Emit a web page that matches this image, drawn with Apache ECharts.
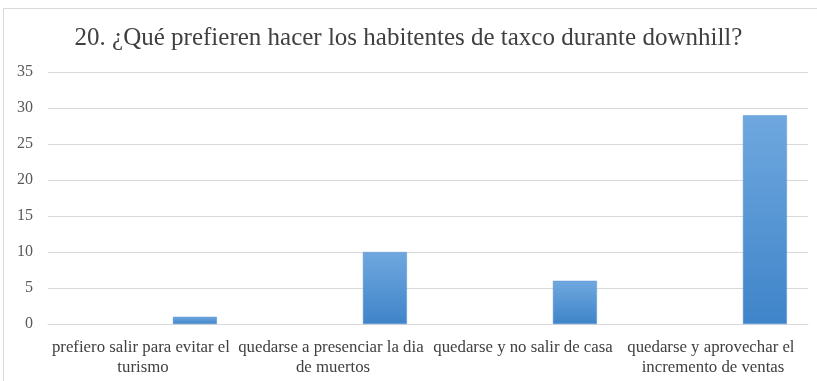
<!DOCTYPE html>
<html>
<head>
<meta charset="utf-8">
<script src="https://cdn.jsdelivr.net/npm/echarts@6/dist/echarts.min.js"></script>
<style>
  html, body { margin: 0; padding: 0; background: #fff; }
  #main { width: 817px; height: 381px; }
</style>
</head>
<body>
<div id="main"></div>
<script>
// datos de la grafica
var categorias = [
    'prefiero salir para evitar el turismo',
    'quedarse a presenciar la dia de muertos',
    'quedarse y no salir de casa',
    'quedarse y aprovechar el incremento de ventas'
];
var valores = [1, 10, 6, 29];
var ticksY = [0, 5, 10, 15, 20, 25, 30, 35];

var fuente = '"Liberation Serif", "Times New Roman", serif';

var myChart = echarts.init(document.getElementById('main'));

// series vacias para que la barra quede desplazada como en el original
var vacia = categorias.map(function () { return null; });

myChart.setOption({
    animation: false,
    title: {
        text: '20. ¿Qué prefieren hacer los habitentes de taxco durante downhill?',
        left: 'center',
        top: 21,
        textStyle: {
            fontFamily: fuente,
            fontSize: 25,
            fontWeight: 'normal',
            color: '#404040'
        }
    },
    graphic: [{
        type: 'rect',
        shape: { x: 3.5, y: 8.5, width: 830, height: 400 },
        style: { fill: 'none', stroke: '#d9d9d9', lineWidth: 1 },
        z: -1
    }],
    grid: { left: 48, right: 9, top: 72, bottom: 57 },
    xAxis: {
        type: 'category',
        data: categorias,
        axisLine: { lineStyle: { color: '#d9d9d9' } },
        axisTick: { show: false },
        axisLabel: {
            interval: 0,
            width: 192,
            overflow: 'break',
            margin: 14,
            lineHeight: 20,
            fontFamily: fuente,
            fontSize: 16.8,
            color: '#404040'
        }
    },
    yAxis: {
        type: 'value',
        min: ticksY[0],
        max: ticksY[ticksY.length - 1],
        interval: 5,
        axisLine: { show: false },
        axisTick: { show: false },
        splitLine: { lineStyle: { color: '#d9d9d9' } },
        axisLabel: {
            margin: 15,
            fontFamily: fuente,
            fontSize: 16,
            color: '#595959'
        }
    },
    series: [
        { type: 'bar', data: vacia, barWidth: 44, barGap: '18%' },
        { type: 'bar', data: vacia, barWidth: 44, barGap: '18%' },
        {
            name: 'habitantes',
            type: 'bar',
            data: valores,
            barWidth: 44,
            barGap: '18%',
            itemStyle: {
                color: new echarts.graphic.LinearGradient(0, 0, 0, 1, [
                    { offset: 0, color: '#6fa8df' },
                    { offset: 1, color: '#3f84c9' }
                ]),
                borderColor: '#5b95d0',
                borderWidth: 0.5
            }
        }
    ]
});
</script>
</body>
</html>
